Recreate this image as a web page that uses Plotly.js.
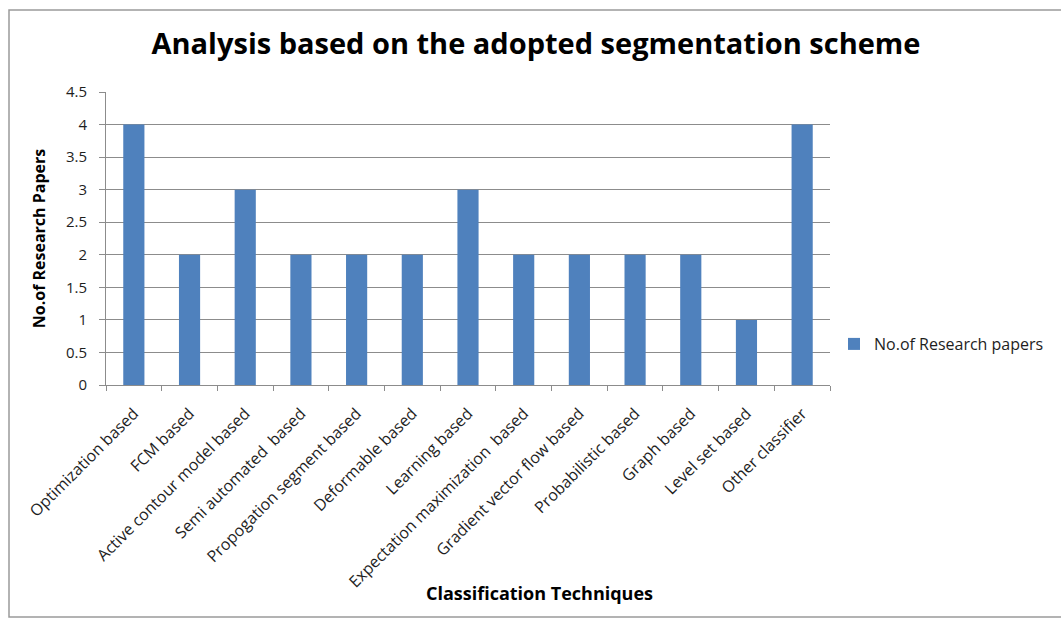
<!DOCTYPE html>
<html>
<head>
<meta charset="utf-8">
<script src="https://cdn.plot.ly/plotly-3.0.1.min.js"></script>
<style>
html,body{margin:0;padding:0;background:#fff;}
#chart{width:1061px;height:620px;}
</style>
</head>
<body>
<div id="chart"></div>
<script>
const categories = [
  "Optimization based",
  "FCM based",
  "Active contour model based",
  "Semi automated\u00a0 based",
  "Propogation segment based",
  "Deformable based",
  "Learning based",
  "Expectation maximization\u00a0 based",
  "Gradient vector flow based",
  "Probabilistic based",
  "Graph based",
  "Level set based",
  "Other classifier"
];
const researchPapers = [4, 2, 3, 2, 2, 2, 3, 2, 2, 2, 2, 1, 4];
const yTickValues = [0, 0.5, 1, 1.5, 2, 2.5, 3, 3.5, 4, 4.5];
const yTickLabels = ["0", "0.5", "1", "1.5", "2", "2.5", "3", "3.5", "4", "4.5"];
const seriesName = "No.of Research papers";
const chartTitle = "Analysis based on the adopted segmentation scheme";
const xTitle = "Classification Techniques";
const yTitle = "No.of Research Papers";

const W = 1061, H = 620;
const m = {l: 106, r: 231, t: 92, b: 235};
const pw = W - m.l - m.r, ph = H - m.t - m.b;
function px(x){ return (x - m.l) / pw; }
function py(y){ return 1 - (y - m.t) / ph; }

const FONT = "Open Sans, Noto Sans, sans-serif";
const GRID = "#8c8c8c";
const TXT = "#1e1e1e";

const trace = {
  type: "bar",
  x: categories,
  y: researchPapers,
  name: seriesName,
  marker: {color: "#4f81bd", line: {width: 0}},
  showlegend: true,
  hoverinfo: "x+y"
};

const layout = {
  width: W, height: H,
  margin: m,
  paper_bgcolor: "#ffffff",
  plot_bgcolor: "#ffffff",
  bargap: 0.62,
  font: {family: FONT, color: TXT, size: 15},
  title: {
    text: chartTitle,
    font: {family: FONT, size: 29, color: "#000000", weight: "bold"},
    x: px(536), xref: "paper", xanchor: "center",
    y: 1 - 44 / H, yref: "container", yanchor: "middle"
  },
  xaxis: {
    type: "category",
    tickangle: -45,
    ticks: "outside",
    tickson: "boundaries",
    ticklen: 5,
    tickcolor: GRID,
    showline: true,
    linecolor: GRID,
    linewidth: 1,
    showgrid: false,
    automargin: false,
    ticklabelstandoff: 12,
    tickfont: {family: FONT, size: 16, color: TXT},
    fixedrange: true
  },
  yaxis: {
    range: [0, 4.5],
    tickvals: yTickValues,
    ticktext: yTickLabels,
    ticks: "outside",
    ticklen: 6,
    tickcolor: GRID,
    showline: true,
    linecolor: GRID,
    showgrid: true,
    gridcolor: GRID,
    gridwidth: 1,
    zeroline: false,
    automargin: false,
    ticklabelstandoff: 9,
    tickfont: {family: FONT, size: 15, color: TXT},
    title: {text: yTitle, font: {family: FONT, size: 16, color: "#000", weight: "bold"}, standoff: 16},
    fixedrange: true
  },
  legend: {
    x: px(834), xanchor: "left",
    y: py(344), yanchor: "middle",
    font: {family: FONT, size: 16, color: TXT},
    bgcolor: "rgba(0,0,0,0)",
    itemwidth: 30
  },
  annotations: [
    {text: xTitle, xref: "paper", yref: "paper", x: px(539), y: py(593),
     xanchor: "center", yanchor: "middle", showarrow: false,
     font: {family: FONT, size: 18, color: "#000", weight: "bold"}}
  ],
  shapes: [
    {type: "rect", xref: "paper", yref: "paper",
     x0: px(9), x1: px(1070), y0: py(617), y1: py(10),
     line: {color: "#9a9a9a", width: 1.5}, fillcolor: "rgba(0,0,0,0)", layer: "below"}
  ]
};

Plotly.newPlot("chart", [trace], layout, {displayModeBar: false, staticPlot: true});
</script>
</body>
</html>
